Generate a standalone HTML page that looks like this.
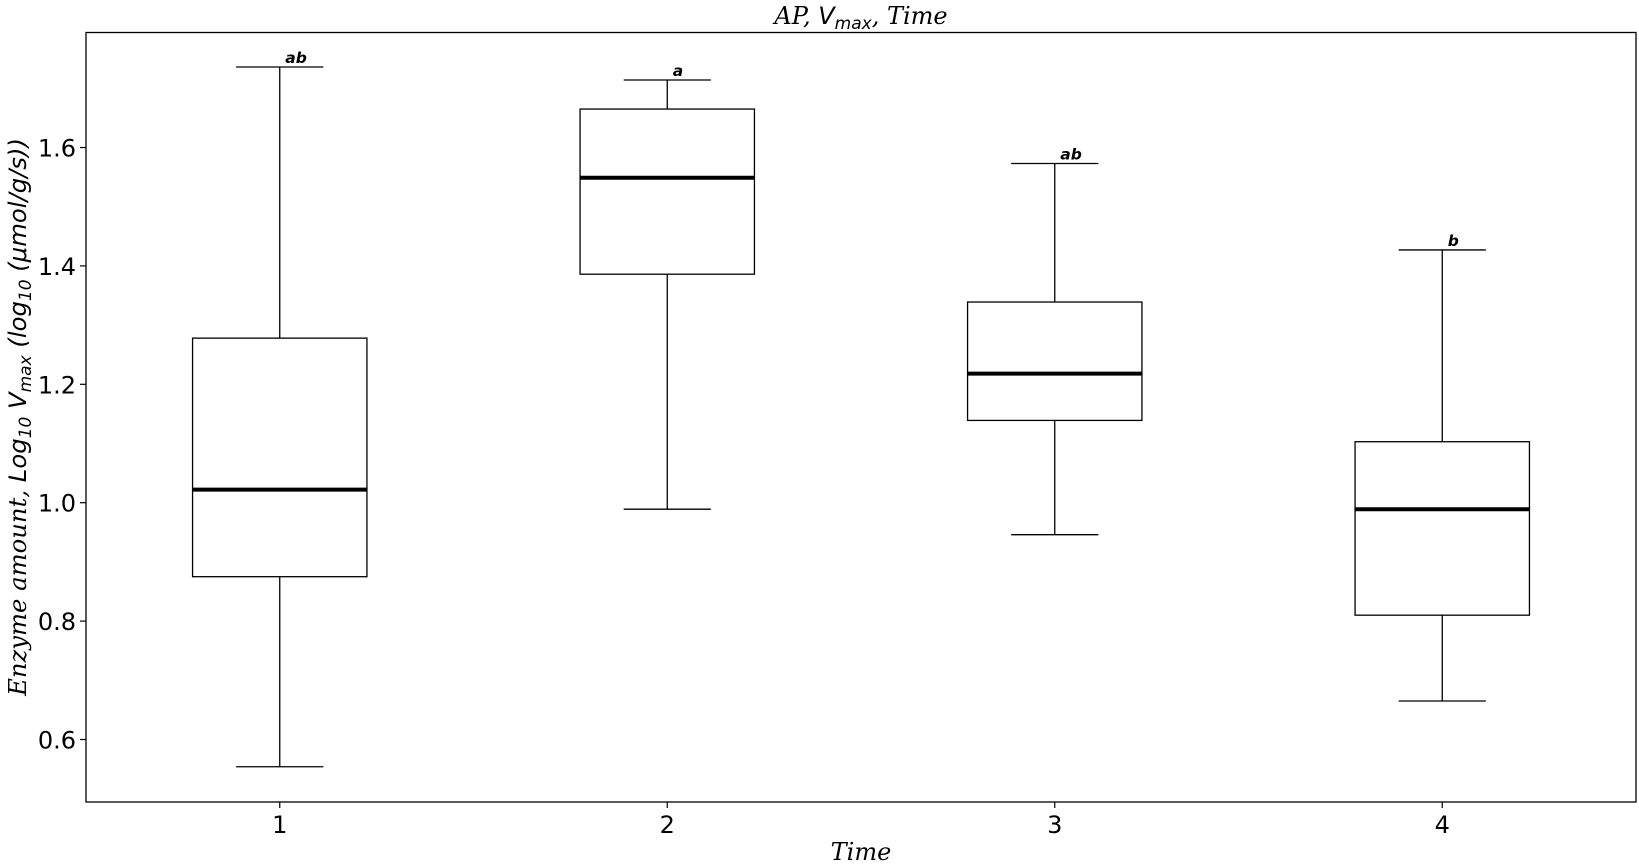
<!DOCTYPE html>
<html><head><meta charset="utf-8"><style>
html,body{margin:0;padding:0;background:#fff;}
svg{display:block;}
</style></head><body>
<svg id="chart" width="1639" height="868" xmlns="http://www.w3.org/2000/svg">
<text x="861" y="24" text-anchor="middle" font-family="DejaVu Serif, serif" font-style="italic" font-size="24">AP, <tspan font-family="DejaVu Sans, sans-serif">V</tspan><tspan font-family="DejaVu Sans, sans-serif" font-size="17" dy="5">max</tspan><tspan dy="-5">, Time</tspan></text>
<g id="plot"></g>
<text x="861" y="860" text-anchor="middle" font-family="DejaVu Serif, serif" font-style="italic" font-size="24">Time</text>
<text transform="translate(26,417) rotate(-90)" text-anchor="middle" font-family="DejaVu Serif, serif" font-style="italic" font-size="24.3">Enzyme amount, <tspan font-family="DejaVu Sans, sans-serif">Log</tspan><tspan font-family="DejaVu Sans, sans-serif" font-size="17" dy="5">10</tspan><tspan font-family="DejaVu Sans, sans-serif" dy="-5"> V</tspan><tspan font-family="DejaVu Sans, sans-serif" font-size="17" dy="5">max</tspan><tspan font-family="DejaVu Sans, sans-serif" dy="-5"> (log</tspan><tspan font-family="DejaVu Sans, sans-serif" font-size="17" dy="5">10</tspan><tspan font-family="DejaVu Sans, sans-serif" dy="-5"> (μmol/g/s))</tspan></text>
</svg>
<script>
const categories = ["1","2","3","4"];
const whiskerLow = [0.554, 0.989, 0.946, 0.665];
const q1 = [0.875, 1.386, 1.139, 0.810];
const medians = [1.022, 1.549, 1.218, 0.989];
const q3 = [1.278, 1.665, 1.339, 1.103];
const whiskerHigh = [1.736, 1.714, 1.573, 1.427];
const sigLetters = ["ab","a","ab","b"];
const yTicks = [0.6, 0.8, 1.0, 1.2, 1.4, 1.6];

const NS = "http://www.w3.org/2000/svg";
const L = 86, R = 1636, T = 32.5, B = 802;
const yMin = 0.4944, yMax = 1.7943;
const xMin = 0.5, xMax = 4.5;
const X = v => L + (v - xMin) / (xMax - xMin) * (R - L);
const Y = v => B - (v - yMin) / (yMax - yMin) * (B - T);
const g = document.getElementById('plot');
function mk(tag, attrs) { const e = document.createElementNS(NS, tag); for (const k in attrs) e.setAttribute(k, attrs[k]); g.appendChild(e); return e; }

categories.forEach((c, i) => {
  const cx = X(i + 1), hw = 0.225 * (X(2) - X(1)), cw = hw / 2;
  let e;
  e = mk('line', {x1: cx, x2: cx, y1: Y(whiskerHigh[i]), y2: Y(q3[i]), stroke: '#000', 'stroke-width': 1.3});
  
  
  e = mk('line', {x1: cx, x2: cx, y1: Y(q1[i]), y2: Y(whiskerLow[i]), stroke: '#000', 'stroke-width': 1.3});
  
  
  e = mk('line', {x1: cx - cw, x2: cx + cw, y1: Y(whiskerHigh[i]), y2: Y(whiskerHigh[i]), stroke: '#000', 'stroke-width': 1.3});
  
  
  e = mk('line', {x1: cx - cw, x2: cx + cw, y1: Y(whiskerLow[i]), y2: Y(whiskerLow[i]), stroke: '#000', 'stroke-width': 1.3});
  
  
  e = mk('rect', {x: cx - hw, y: Y(q3[i]), width: 2 * hw, height: Y(q1[i]) - Y(q3[i]), fill: 'none', stroke: '#000', 'stroke-width': 1.3});
  
  
  e = mk('line', {x1: cx - hw, x2: cx + hw, y1: Y(medians[i]), y2: Y(medians[i]), stroke: '#000', 'stroke-width': 4});
  
  
  e = mk('text', {x: cx + 5.5, y: Y(whiskerHigh[i]) - 4, 'text-anchor': 'start', 'font-family': 'DejaVu Sans, sans-serif', 'font-style': 'italic', 'font-weight': 'bold', 'font-size': 15.5});
  e.textContent = sigLetters[i];
  
  
  e = mk('line', {x1: cx, x2: cx, y1: B, y2: B + 6, stroke: '#000', 'stroke-width': 1.2});
  
  
  e = mk('text', {x: cx, y: B + 31, 'text-anchor': 'middle', 'font-family': 'DejaVu Sans, sans-serif', 'font-size': 24});
  e.textContent = c;
  
  
});
yTicks.forEach(v => {
  let e = mk('line', {x1: L - 6, x2: L, y1: Y(v), y2: Y(v), stroke: '#000', 'stroke-width': 1.2});
  
  
  e = mk('text', {x: L - 10, y: Y(v) + 9, 'text-anchor': 'end', 'font-family': 'DejaVu Sans, sans-serif', 'font-size': 24});
  e.textContent = v.toFixed(1);
  
  
});
const fr = mk('rect', {x: L, y: T, width: R - L, height: B - T, fill: 'none', stroke: '#000', 'stroke-width': 1.3});


</script>
</body></html>
